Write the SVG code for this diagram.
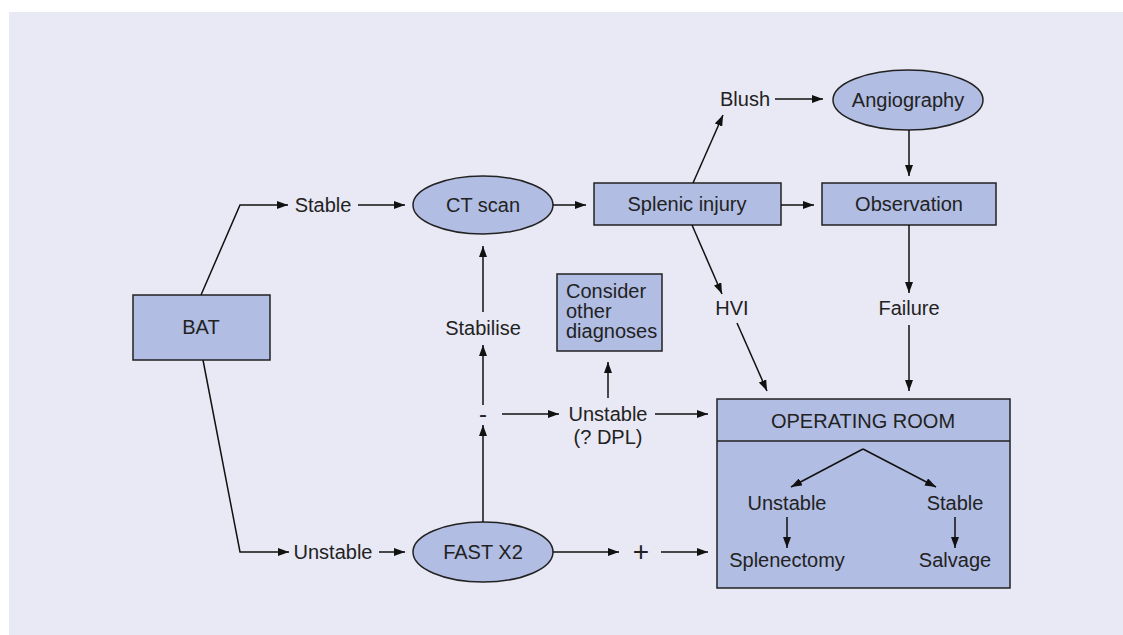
<svg xmlns="http://www.w3.org/2000/svg" width="1123" height="635" viewBox="0 0 1123 635">
<style>
.node{fill:#b1bde2;stroke:#222;stroke-width:1.5}
.t{font-family:"Liberation Sans",Arial,sans-serif;font-size:20px;fill:#222;text-anchor:middle}
.tl{font-family:"Liberation Sans",Arial,sans-serif;font-size:20px;fill:#222}
.c{fill:none;stroke:#111;stroke-width:1.5}
.a{marker-end:url(#ah)}
</style>
<defs>
<marker id="ah" markerUnits="userSpaceOnUse" markerWidth="12" markerHeight="8" refX="11" refY="4" orient="auto">
<path d="M0,0 L11,4 L0,8 z" fill="#111"/>
</marker>
</defs>
<rect x="9" y="12" width="1114" height="623" fill="#e9e9f5"/>

<g id="bat"><rect class="node" x="133" y="295" width="137" height="65"/><text class="t" x="201" y="334">BAT</text></g>
<g id="ct"><ellipse class="node" cx="483" cy="205" rx="70" ry="29"/><text class="t" x="483" y="212">CT scan</text></g>
<g id="splenic"><rect class="node" x="594" y="183" width="187" height="42"/><text class="t" x="687" y="211">Splenic injury</text></g>
<g id="observation"><rect class="node" x="822" y="183" width="174" height="42"/><text class="t" x="909" y="211">Observation</text></g>
<g id="angiography"><ellipse class="node" cx="908" cy="100" rx="75" ry="30"/><text class="t" x="908" y="107">Angiography</text></g>
<g id="consider"><rect class="node" x="557" y="274" width="105" height="77"/>
<text class="tl" x="566" y="298">Consider</text><text class="tl" x="566" y="318">other</text><text class="tl" x="566" y="338">diagnoses</text></g>
<g id="fast"><ellipse class="node" cx="483" cy="552" rx="70" ry="30"/><text class="t" x="483" y="559">FAST X2</text></g>
<g id="or"><rect class="node" x="717" y="399" width="293" height="189"/><line x1="717" y1="441" x2="1010" y2="441" stroke="#222" stroke-width="1.5"/>
<text class="t" x="863" y="428">OPERATING ROOM</text>
<text class="t" x="787" y="510">Unstable</text><text class="t" x="955" y="510">Stable</text>
<text class="t" x="787" y="567">Splenectomy</text><text class="t" x="955" y="567">Salvage</text></g>

<g id="connectors">
<polyline class="c a" points="201,295 240,205 288,205"/>
<line class="c a" x1="358" y1="205" x2="405" y2="205"/>
<line class="c a" x1="553" y1="205" x2="586" y2="205"/>
<line class="c a" x1="781" y1="205" x2="814" y2="205"/>
<line class="c a" x1="693" y1="183" x2="723" y2="115"/>
<line class="c a" x1="775" y1="99" x2="823" y2="99"/>
<line class="c a" x1="909" y1="130" x2="909" y2="176"/>
<line class="c a" x1="692" y1="225" x2="722" y2="294"/>
<line class="c a" x1="737" y1="323" x2="767" y2="391"/>
<line class="c a" x1="909" y1="225" x2="909" y2="293"/>
<line class="c a" x1="909" y1="325" x2="909" y2="391"/>
<line class="c a" x1="483" y1="312" x2="483" y2="246"/>
<line class="c a" x1="483" y1="405" x2="483" y2="345"/>
<line class="c a" x1="483" y1="522" x2="483" y2="425"/>
<line class="c a" x1="502" y1="414" x2="559" y2="414"/>
<line class="c a" x1="608" y1="398" x2="608" y2="362"/>
<line class="c a" x1="655" y1="414" x2="708" y2="414"/>
<polyline class="c a" points="203,360 240,552 289,552"/>
<line class="c a" x1="379" y1="552" x2="405" y2="552"/>
<line class="c a" x1="553" y1="552" x2="619" y2="552"/>
<line class="c a" x1="661" y1="552" x2="708" y2="552"/>
<line class="c a" x1="863" y1="449" x2="791" y2="487"/>
<line class="c a" x1="863" y1="449" x2="936" y2="487"/>
<line class="c a" x1="787" y1="517" x2="787" y2="548"/>
<line class="c a" x1="955" y1="517" x2="955" y2="548"/>
</g>

<g id="labels">
<text class="t" x="323" y="212">Stable</text>
<text class="t" x="745" y="106">Blush</text>
<text class="t" x="732" y="315">HVI</text>
<text class="t" x="909" y="315">Failure</text>
<text class="t" x="483" y="335">Stabilise</text>
<text class="t" x="483" y="422" style="font-size:24px">-</text>
<text class="t" x="608" y="421">Unstable</text>
<text class="t" x="608" y="444">(? DPL)</text>
<text class="t" x="333" y="559">Unstable</text>
<text class="t" x="641" y="561" style="font-size:28px">+</text>
</g>
</svg>
